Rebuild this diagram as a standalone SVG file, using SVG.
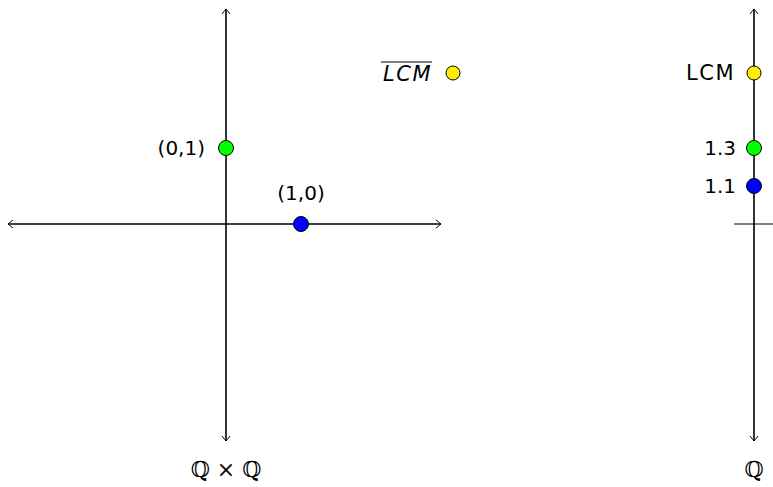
<svg xmlns="http://www.w3.org/2000/svg" width="773" height="487" viewBox="0 0 773 487">
<style>
.ax{stroke:#000;stroke-width:1.1;fill:none}
.dot{stroke:#000;stroke-width:1}
.t{font-family:"DejaVu Sans","Liberation Sans",sans-serif;font-size:20px;fill:#000}
.lcm{font-size:21px;letter-spacing:1.5px}
.q{font-family:"DejaVu Serif","Noto Sans",serif;font-size:22px;fill:#000}
</style>
<defs>
<marker id="arr" viewBox="-6 -5 8 10" markerWidth="8" markerHeight="10" refX="0" refY="0" orient="auto" markerUnits="userSpaceOnUse">
<path d="M-5,-4 Q-1,-1 0,0 Q-1,1 -5,4" fill="none" stroke="#000" stroke-width="1"/>
</marker>
</defs>
<g id="connectors">
<line class="ax" x1="226" y1="441" x2="226" y2="9" marker-end="url(#arr)"/>
<line class="ax" x1="226" y1="9" x2="226" y2="441" marker-end="url(#arr)"/>
<line class="ax" x1="441" y1="224" x2="8" y2="224" marker-end="url(#arr)"/>
<line class="ax" x1="8" y1="224" x2="441" y2="224" marker-end="url(#arr)"/>
<line class="ax" x1="754" y1="441" x2="754" y2="9" marker-end="url(#arr)"/>
<line class="ax" x1="754" y1="9" x2="754" y2="441" marker-end="url(#arr)"/>
<line class="ax" x1="734" y1="224" x2="773" y2="224"/>
</g>
<g id="p01">
<circle class="dot" cx="226" cy="148" r="7.5" fill="#00ff00"/>
<text class="t" x="205" y="155" text-anchor="end">(0,1)</text>
</g>
<g id="p10">
<circle class="dot" cx="301" cy="224" r="7.5" fill="#0000ff"/>
<text class="t" x="301" y="200" text-anchor="middle">(1,0)</text>
</g>
<g id="lcmbar">
<circle class="dot" cx="453" cy="73" r="7" fill="#ffee00"/>
<text class="t lcm" x="432" y="81" text-anchor="end" font-style="italic">LCM</text>
<line x1="381" y1="62" x2="432" y2="62" stroke="#000" stroke-width="1"/>
</g>
<g id="lcm">
<circle class="dot" cx="754" cy="73" r="7" fill="#ffee00"/>
<text class="t lcm" x="735" y="80" text-anchor="end">LCM</text>
</g>
<g id="v13">
<circle class="dot" cx="754" cy="148" r="7.5" fill="#00ff00"/>
<text class="t" x="736" y="155" text-anchor="end">1.3</text>
</g>
<g id="v11">
<circle class="dot" cx="754" cy="186" r="7.5" fill="#0000ff"/>
<text class="t" x="736" y="193" text-anchor="end">1.1</text>
</g>
<g id="labels">
<text class="q" x="226" y="477" text-anchor="middle">ℚ × ℚ</text>
<text class="q" x="754" y="477" text-anchor="middle">ℚ</text>
</g>
</svg>
